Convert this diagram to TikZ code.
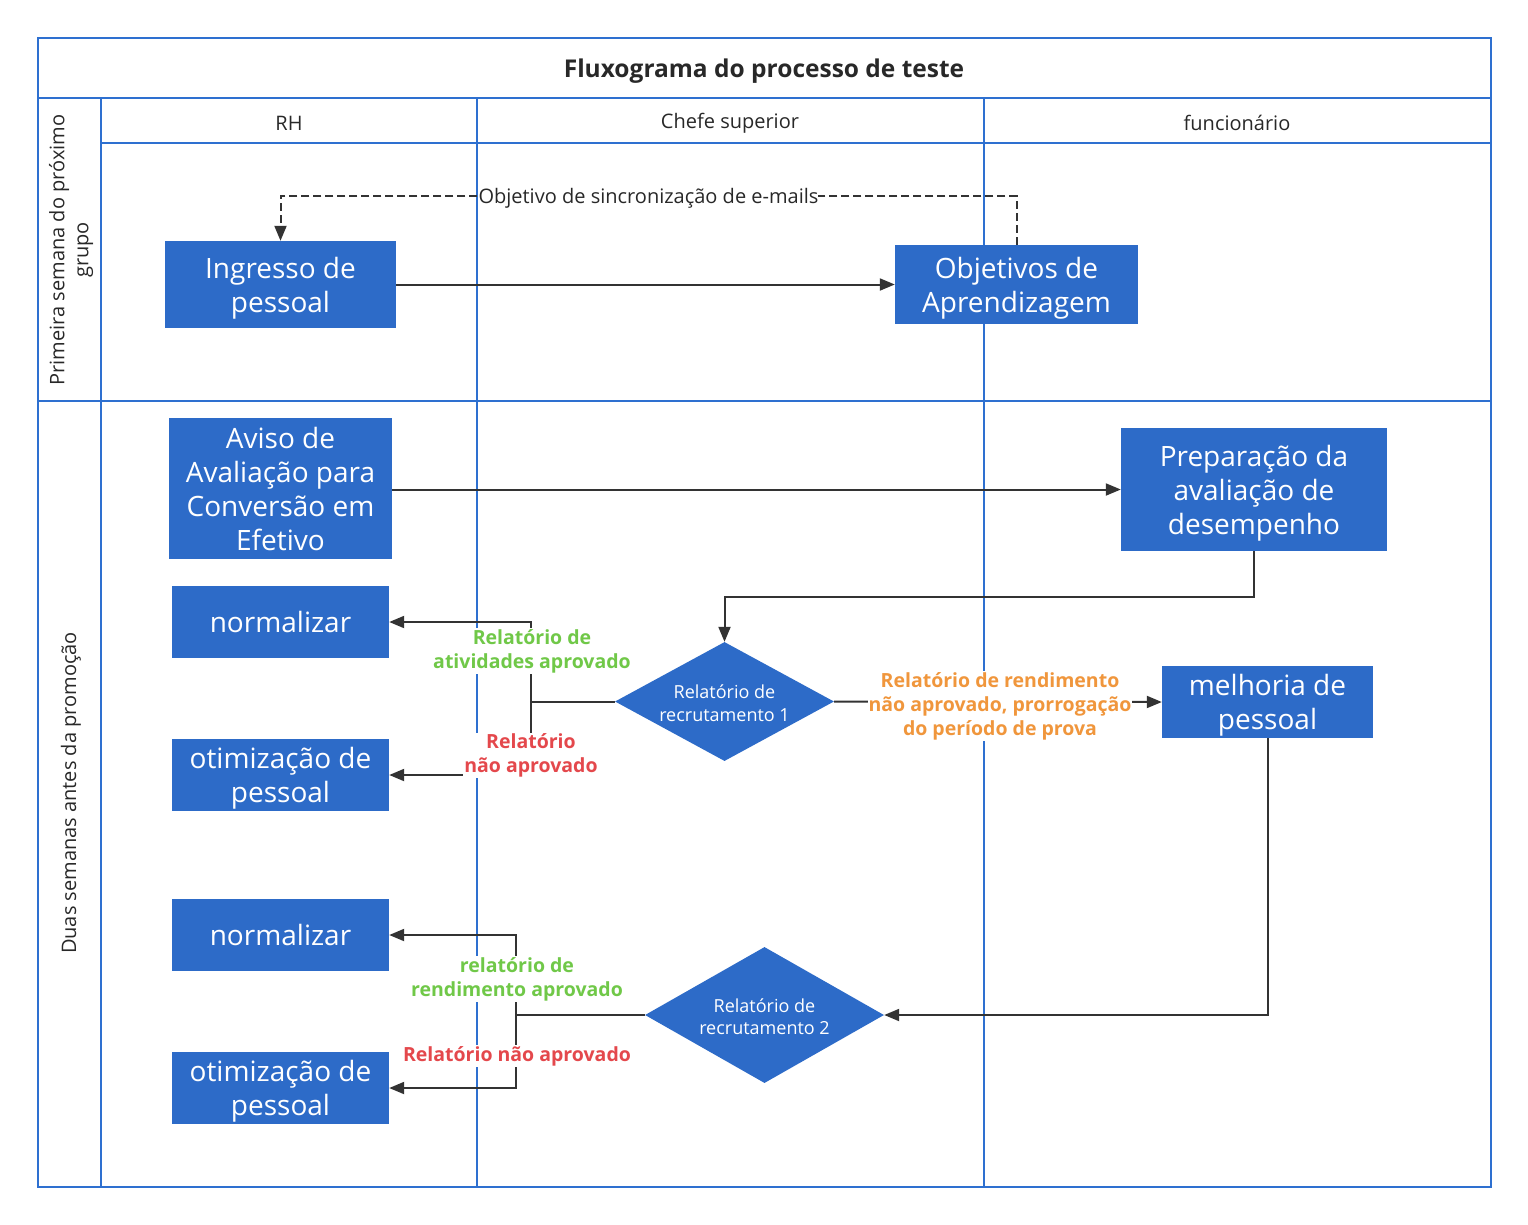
\documentclass[tikz,border=0pt]{standalone}
\usepackage{fontspec}
\setmainfont{Open Sans}
\usetikzlibrary{arrows.meta,shapes.geometric}
\definecolor{lanec}{RGB}{46,112,208}
\definecolor{boxc}{RGB}{45,107,200}
\definecolor{arrc}{RGB}{51,51,51}
\definecolor{okg}{RGB}{112,200,72}
\definecolor{nored}{RGB}{228,72,76}
\definecolor{orng}{RGB}{240,150,60}
\definecolor{txtc}{RGB}{40,40,40}
\newcommand\bxt[2][-4pt]{\raisebox{#1}[\height][\depth]{\begin{tabular}{@{}c@{}}#2\end{tabular}}}
\begin{document}
\begin{tikzpicture}[x=1pt,y=-1pt,
  lanel/.style={draw=lanec,line width=2.5pt},
  proc/.style={fill=boxc,text=white,inner sep=0pt,align=center,font=\fontsize{28}{34}\selectfont},
  dec/.style={diamond,fill=boxc,text=white,inner sep=0pt,align=center,font=\fontsize{18}{22.5}\selectfont},
  conn/.style={draw=arrc,line width=2pt,-{Triangle[length=15pt,width=12pt]}},
  plain/.style={draw=arrc,line width=2pt},
  lbl/.style={fill=white,inner sep=1pt,align=center,font=\fontsize{19.5}{24}\selectfont\bfseries},
  head/.style={text=txtc,font=\fontsize{20}{24}\selectfont}]
\useasboundingbox (0,0) rectangle (1528,1224);
\fill[white] (0,0) rectangle (1528,1224);
% swimlanes
\draw[lanel] (38,38) rectangle (1491,1187);
\draw[lanel] (38,98) -- (1491,98);
\draw[lanel] (101,98) -- (101,1187);
\draw[lanel] (101,143) -- (1491,143);
\draw[lanel] (38,401) -- (1491,401);
\draw[lanel] (477,98) -- (477,1187);
\draw[lanel] (984,98) -- (984,1187);
\node[head,font=\fontsize{24.5}{28}\selectfont\bfseries] (title) at (764,71) {Fluxograma do processo de teste};
\node[head] (hrh) at (289,123) {RH};
\node[head] (hcs) at (730,123) {Chefe superior};
\node[head] (hfu) at (1237,123) {funcionário};
\node[head,rotate=90,align=center] (row1) at (71,250) {Primeira semana do próximo\\grupo};
\node[head,rotate=90] (row2) at (71,793) {Duas semanas antes da promoção};
% nodes
\node[proc,minimum width=231pt,minimum height=87pt] (ing) at (280.5,284.5) {\bxt{Ingresso de\\pessoal}};
\node[proc,minimum width=243pt,minimum height=79pt] (obj) at (1016.5,284.5) {\bxt{Objetivos de\\Aprendizagem}};
\node[proc,minimum width=223pt,minimum height=141pt] (avi) at (280.5,488.5) {\bxt{Aviso de\\Avaliação para\\Conversão em\\Efetivo}};
\node[proc,minimum width=266pt,minimum height=123pt] (pre) at (1254,489.5) {\bxt{Preparação da\\avaliação de\\desempenho}};
\node[proc,minimum width=217pt,minimum height=72pt] (nor1) at (280.5,622) {\bxt{normalizar}};
\node[proc,minimum width=217pt,minimum height=72pt] (otm1) at (280.5,775) {\bxt{otimização de\\pessoal}};
\node[dec,shape aspect=1.84,minimum width=219pt,minimum height=119pt] (d1) at (724.5,701.5) {\bxt{Relatório de\\recrutamento 1}};
\node[proc,minimum width=211pt,minimum height=72pt] (mel) at (1267.5,702) {\bxt{melhoria de\\pessoal}};
\node[proc,minimum width=217pt,minimum height=72pt] (nor2) at (280.5,935) {\bxt{normalizar}};
\node[proc,minimum width=217pt,minimum height=72pt] (otm2) at (280.5,1088) {\bxt{otimização de\\pessoal}};
\node[dec,shape aspect=1.76,minimum width=239pt,minimum height=136pt] (d2) at (764.5,1015) {\bxt{Relatório de\\recrutamento 2}};
% connectors
\coordinate (sy) at (0,196);
\draw[conn] (ing.east) -- (ing.east -| obj.west);
\draw[conn,dash pattern=on 8pt off 4pt] (obj.north) -- (obj.north |- sy) -- node[lbl,font=\fontsize{20}{24}\selectfont,text=txtc,inner sep=0pt] (sync) {\bxt[-3pt]{Objetivo de sincronização de e-mails}} (ing.north |- sy) -- (ing.north);
\draw[conn] (avi.east |- pre.west) -- (pre.west);
\draw[conn] (pre.south) -- ++(0,46) -| (d1.north);
\coordinate (j1) at (531,701.5);
\draw[plain] (d1.west) -- (j1);
\draw[conn] (j1) |- (nor1.east);
\draw[conn] (j1) |- (otm1.east);
\draw[conn] (d1.east) -- (mel.west);
\draw[conn] (mel.south) |- (d2.east);
\coordinate (j2) at (516,1015);
\draw[plain] (d2.west) -- (j2);
\draw[conn] (j2) |- (nor2.east);
\draw[conn] (j2) |- (otm2.east);
% labels
\node[lbl,text=okg] (l1) at (532,651) {Relatório de\\atividades aprovado};
\node[lbl,text=nored] (l2) at (531,755.5) {Relatório\\não aprovado};
\node[lbl,text=orng] (l3) at (1000,706) {Relatório de rendimento\\não aprovado, prorrogação\\do período de prova};
\node[lbl,text=okg] (l4) at (517,979) {relatório de\\rendimento aprovado};
\node[lbl,text=nored] (l5) at (517,1056) {Relatório não aprovado};
\end{tikzpicture}
\end{document}
